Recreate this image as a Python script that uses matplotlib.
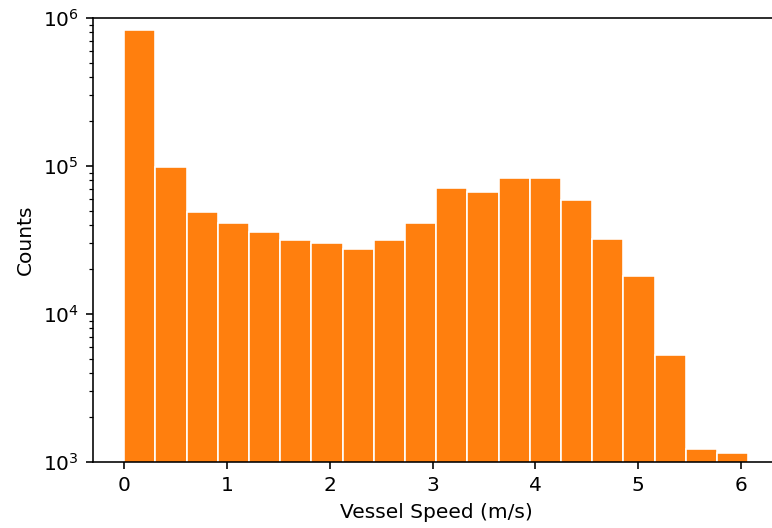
import matplotlib
matplotlib.use("Agg")
import matplotlib.pyplot as plt
import numpy as np

bin_start = 0.0
bin_end = 6.07
n_bins = 20
counts = [830000, 98000, 48900, 41200, 35800, 31600, 30200, 27500, 31600, 41200,
          71000, 66700, 83000, 83000, 58900, 32100, 18100, 5280, 1220, 1150]

edges = np.linspace(bin_start, bin_end, n_bins + 1)

DPI = 145
fig = plt.figure(figsize=(772 / DPI, 528 / DPI), dpi=DPI)
ax = fig.add_axes([0.1205, 0.125, 0.889, 0.841])
ax.bar(edges[:-1], counts, width=np.diff(edges), align='edge',
       color='#ff7f0e', edgecolor='white', linewidth=0.8)
ax.set_yscale('log')
ax.set_ylim(1e3, 1e6)
margin = 0.05 * (bin_end - bin_start)
ax.set_xlim(bin_start - margin, bin_end + margin)
ax.set_xticks([0, 1, 2, 3, 4, 5, 6])
ax.spines['right'].set_visible(False)
ax.set_xlabel('Vessel Speed (m/s)')
ax.set_ylabel('Counts')
fig.savefig('out.png', dpi=DPI)
